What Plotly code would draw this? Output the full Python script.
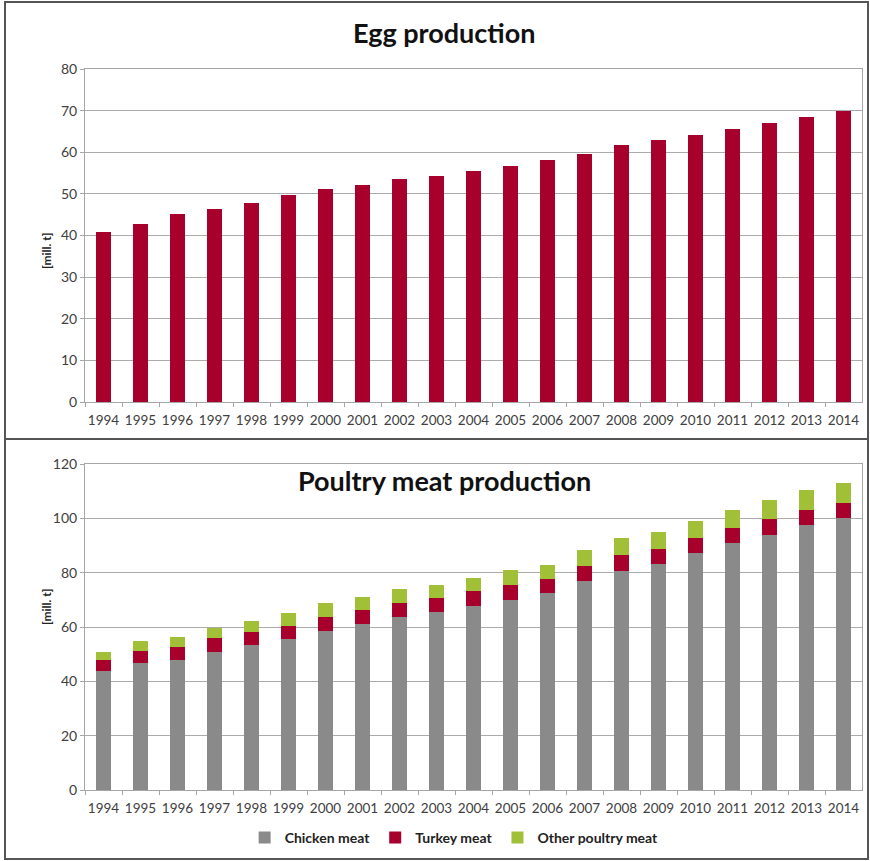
import plotly.graph_objects as go

years = [str(y) for y in range(1994, 2015)]
egg = [40.9, 42.7, 45.1, 46.3, 47.8, 49.7, 51.2, 52.2, 53.6, 54.4, 55.6,
       56.8, 58.1, 59.5, 61.7, 62.9, 64.1, 65.6, 67.1, 68.5, 69.8]
chicken = [43.9, 46.7, 47.9, 50.9, 53.2, 55.7, 58.7, 61.1, 63.6, 65.4, 67.9,
           70.1, 72.5, 77.0, 80.7, 83.2, 87.2, 90.9, 93.7, 97.4, 100.2]
turkey = [4.1, 4.5, 4.7, 4.9, 4.8, 4.7, 5.1, 5.2, 5.4, 5.1, 5.4,
          5.5, 5.3, 5.3, 5.7, 5.5, 5.4, 5.7, 6.1, 5.7, 5.6]
other = [2.9, 3.7, 3.7, 4.0, 4.3, 4.8, 4.9, 4.7, 5.0, 4.9, 4.8,
         5.2, 5.2, 5.9, 6.2, 6.3, 6.5, 6.5, 7.0, 7.2, 7.2]

RED = "#A8002C"
GRAY = "#8A8A8A"
GREEN = "#A2C037"
FONT = "Lato"
W, H = 870, 861

fig = go.Figure()
fig.add_trace(go.Bar(x=years, y=egg, marker=dict(color=RED, line=dict(width=0)),
                     xaxis="x", yaxis="y", showlegend=False, name="Egg production"))
fig.add_trace(go.Bar(x=years, y=chicken, marker=dict(color=GRAY, line=dict(width=0)),
                     xaxis="x2", yaxis="y2", name="Chicken meat"))
fig.add_trace(go.Bar(x=years, y=turkey, marker=dict(color=RED, line=dict(width=0)),
                     xaxis="x2", yaxis="y2", name="Turkey meat"))
fig.add_trace(go.Bar(x=years, y=other, marker=dict(color=GREEN, line=dict(width=0)),
                     xaxis="x2", yaxis="y2", name="Other poultry meat"))

xd = [85 / W, 862 / W]
top_dom = [1 - 402 / H, 1 - 69 / H]
bot_dom = [1 - 790 / H, 1 - 464 / H]

common_x = dict(type="category", showline=True, linecolor="#A6A6A6", mirror=True,
                ticks="outside", ticklen=4, tickcolor="#A6A6A6", tickson="boundaries",
                tickangle=0, ticklabelstandoff=6,
                tickfont=dict(family=FONT, size=13.5, color="#404040"), showgrid=False,
                domain=xd)
common_y = dict(showline=True, linecolor="#A6A6A6", mirror=True, ticks="outside",
                ticklen=4, tickcolor="#A6A6A6", gridcolor="#ABABAB", gridwidth=1,
                tickfont=dict(family=FONT, size=14, color="#404040"), zeroline=False)

fig.update_layout(
    width=W, height=H,
    margin=dict(l=0, r=0, t=0, b=0, autoexpand=False),
    paper_bgcolor="white", plot_bgcolor="white",
    barmode="stack", bargap=0.61,
    xaxis=dict(**common_x, anchor="y"),
    yaxis=dict(**common_y, domain=top_dom, range=[0, 80], dtick=10, anchor="x"),
    xaxis2=dict(**common_x, anchor="y2"),
    yaxis2=dict(**common_y, domain=bot_dom, range=[0, 120], dtick=20, anchor="x2"),
    legend=dict(orientation="h", x=0.522, xanchor="center", y=1 - 838 / H, yanchor="middle",
                font=dict(family=FONT, size=14, color="#222222", weight="bold"),
                traceorder="normal"),
    font=dict(family=FONT),
)

fig.add_annotation(text="<b>Egg production</b>", x=444 / W, y=1 - 32 / H, xref="paper", yref="paper",
                   yanchor="middle", showarrow=False, font=dict(family=FONT, size=27, color="#111111"))
fig.add_annotation(text="<b>Poultry meat production</b>", x=444 / W, y=1 - 481 / H, xref="paper",
                   yref="paper", yanchor="middle", showarrow=False,
                   font=dict(family=FONT, size=27, color="#111111"))
for yc in [1 - 230 / H, 1 - 627 / H]:
    fig.add_annotation(text="<b>[mill. t]</b>", x=37 / W, y=yc, xref="paper", yref="paper",
                       showarrow=False, textangle=-90,
                       font=dict(family=FONT, size=12, color="#222222"))

fig.add_shape(type="rect", xref="paper", yref="paper", x0=5 / W, x1=868 / W,
              y0=1 - 859 / H, y1=1 - 2 / H, line=dict(color="#555555", width=2))
fig.add_shape(type="line", xref="paper", yref="paper", x0=5 / W, x1=868 / W,
              y0=1 - 439 / H, y1=1 - 439 / H, line=dict(color="#555555", width=2))

fig.write_html("out.html")
